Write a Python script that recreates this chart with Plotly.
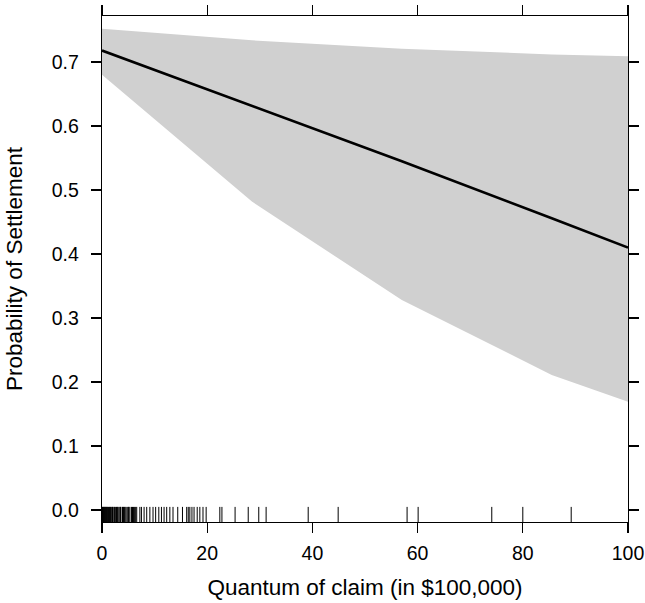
import plotly.graph_objects as go

# Effect grid (quantum of claim, $100,000) and fitted probability with 95% band
grid_x = [0, 28.5, 57, 85.5, 100]
fit_p = [0.718, 0.632, 0.545, 0.456, 0.410]
lower_p = [0.680, 0.482, 0.328, 0.211, 0.169]
upper_p = [0.752, 0.734, 0.721, 0.712, 0.709]

# Observed claim values (rug)
rug_x = [0, 0.1, 0.2, 0.3, 0.4, 0.5, 0.6, 0.7, 0.8, 0.9, 1.0, 1.1, 1.25, 1.4, 1.5,
         1.6, 1.75, 1.9, 2.0, 2.1, 2.3, 2.4, 2.6, 2.75, 2.9, 3.0, 3.2, 3.4, 3.5,
         3.6, 3.9, 4.0, 4.1, 4.3, 4.4, 4.6, 4.9, 5.0, 5.1, 5.3, 5.6, 5.8, 6.0,
         6.2, 6.4, 6.6, 7.2, 7.5, 8.0, 8.5, 9.1, 9.7, 10.2, 10.8, 11.3, 11.8,
         12.3, 12.9, 13.5, 14.4, 15.3, 16.1, 16.4, 16.7, 17.1, 17.5, 18.1, 18.6,
         19.2, 19.8, 22.4, 22.8, 25.3, 27.8, 29.8, 31.2, 39.2, 44.9, 58.0, 60.1,
         74.1, 80.0, 89.2]

x_ticks = [0, 20, 40, 60, 80, 100]
y_ticks = [0.0, 0.1, 0.2, 0.3, 0.4, 0.5, 0.6, 0.7]
y_tick_text = ["0.0", "0.1", "0.2", "0.3", "0.4", "0.5", "0.6", "0.7"]

Y_MIN, Y_MAX = -0.0188, 0.772
RUG_TOP = 0.0048

fig = go.Figure()

fig.add_trace(go.Scatter(
    x=grid_x + grid_x[::-1], y=upper_p + lower_p[::-1],
    fill="toself", fillcolor="#d0d0d0", line=dict(width=0),
    mode="lines", hoverinfo="skip", showlegend=False))

fig.add_trace(go.Scatter(
    x=grid_x, y=fit_p, mode="lines",
    line=dict(color="black", width=2.6), showlegend=False))

rx, ry = [], []
for v in rug_x:
    rx += [v, v, None]
    ry += [Y_MIN, RUG_TOP, None]
fig.add_trace(go.Scatter(x=rx, y=ry, mode="lines",
                         line=dict(color="black", width=1), showlegend=False))

font_family = "Liberation Sans, Arial, Helvetica, sans-serif"
axis_common = dict(
    showline=True, linecolor="black", linewidth=1.3, mirror="ticks",
    ticks="outside", ticklen=10, tickwidth=1.3, tickcolor="black",
    showgrid=False, zeroline=False,
    tickfont=dict(family=font_family, size=19.5, color="black"),
)

fig.update_xaxes(range=[0, 100], tickvals=x_ticks,
                 title=dict(text="Quantum of claim (in $100,000)",
                            font=dict(family=font_family, size=22.5, color="black"),
                            standoff=16),
                 ticklabelstandoff=3, **axis_common)
fig.update_yaxes(range=[Y_MIN, Y_MAX], tickvals=y_ticks, ticktext=y_tick_text,
                 title=dict(text="Probability of Settlement",
                            font=dict(family=font_family, size=22.5, color="black"),
                            standoff=22),
                 ticklabelstandoff=8, **axis_common)

fig.update_layout(
    width=645, height=603,
    margin=dict(l=102, r=17, t=16, b=81, autoexpand=False),
    plot_bgcolor="white", paper_bgcolor="white",
)

fig.write_html("out.html", config={"displayModeBar": False, "staticPlot": True})

# remove default browser body margin so the figure sits at the page origin
with open("out.html", "r", encoding="utf-8") as f:
    html = f.read()
html = html.replace("<head>", "<head><style>html,body{margin:0;padding:0;overflow:hidden;}</style>", 1)
with open("out.html", "w", encoding="utf-8") as f:
    f.write(html)
